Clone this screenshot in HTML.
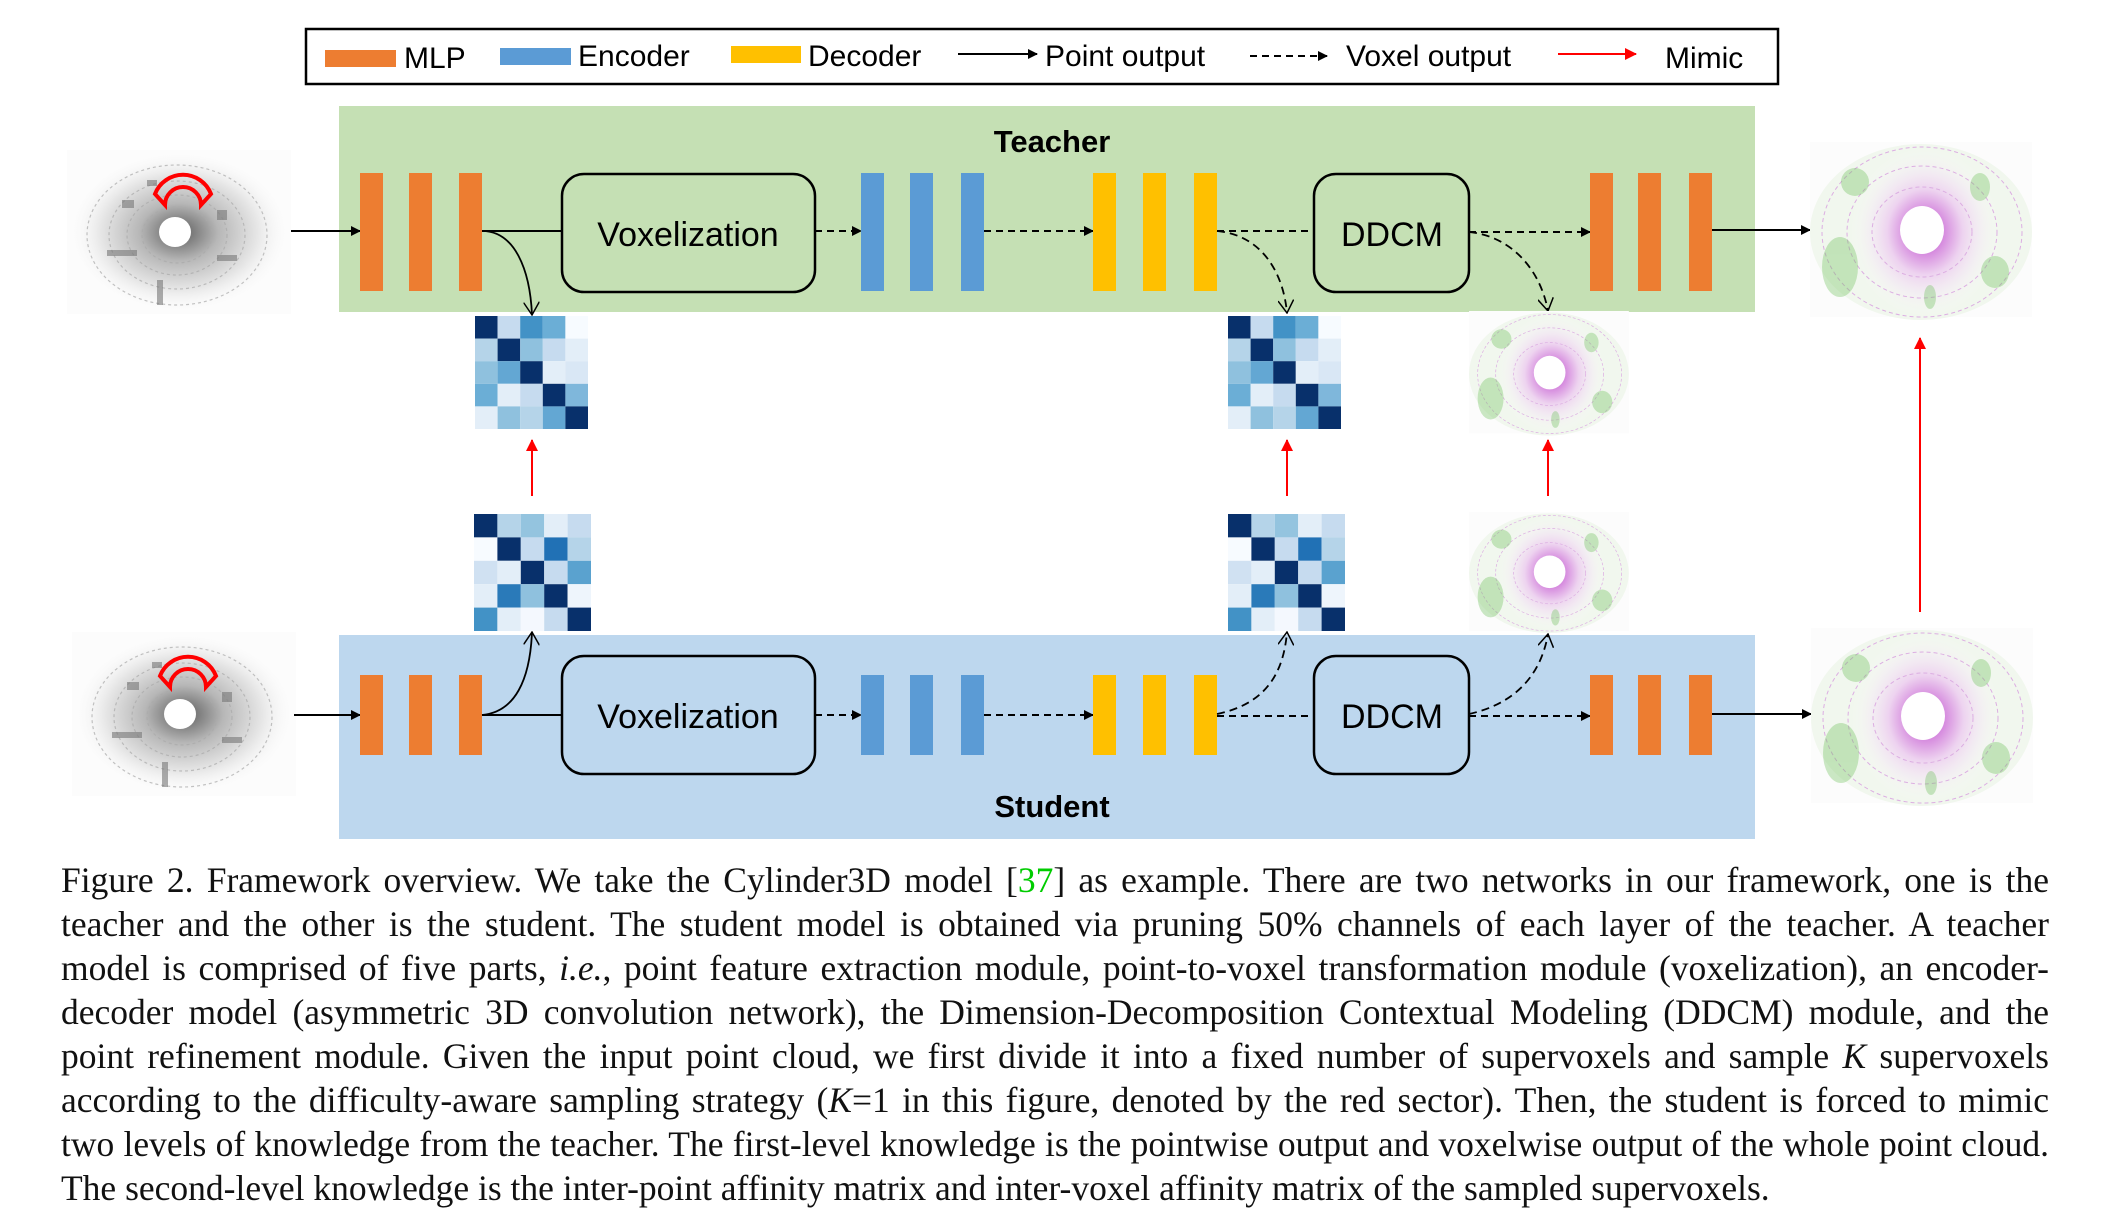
<!DOCTYPE html>
<html><head><meta charset="utf-8">
<style>
html,body{margin:0;padding:0;background:#fff;}
body{width:2113px;height:1221px;position:relative;overflow:hidden;}
svg{position:absolute;left:0;top:0;}
.cap{position:absolute;left:61px;width:1988px;top:858px;font-family:"Liberation Serif",serif;font-size:35.5px;line-height:44px;color:#111;}
.cap div{text-align:justify;text-align-last:justify;white-space:nowrap;height:44px;}
.cap div.last{text-align-last:left;}
</style></head><body>
<svg width="2113" height="1221" viewBox="0 0 2113 1221" xmlns="http://www.w3.org/2000/svg" font-family="Liberation Sans, sans-serif">
<defs>
<marker id="ah" markerWidth="10" markerHeight="10" refX="9" refY="5" orient="auto" markerUnits="userSpaceOnUse"><path d="M0,0 L10,5 L0,10 z" fill="#000"/></marker>
<marker id="ahr" markerWidth="12" markerHeight="12" refX="11" refY="6" orient="auto" markerUnits="userSpaceOnUse"><path d="M0,0 L12,6 L0,12 z" fill="#f00"/></marker>
<marker id="aho" markerWidth="14" markerHeight="16" refX="13" refY="8" orient="auto" markerUnits="userSpaceOnUse"><path d="M0,0 L13,8 L0,16" fill="none" stroke="#000" stroke-width="1.5"/></marker>
<radialGradient id="pcg" cx="0.5" cy="0.5" r="0.5"><stop offset="0.12" stop-color="#444"/><stop offset="0.35" stop-color="#999"/><stop offset="0.7" stop-color="#ddd"/><stop offset="1" stop-color="#fff" stop-opacity="0"/></radialGradient>
<radialGradient id="sgg" cx="0.5" cy="0.5" r="0.5"><stop offset="0.15" stop-color="#c040d0"/><stop offset="0.5" stop-color="#ecc6f0"/><stop offset="1" stop-color="#fff" stop-opacity="0"/></radialGradient>
<g id="pc">
<rect x="0" y="0" width="224" height="164" fill="#fcfcfc"/>
<ellipse cx="112" cy="82" rx="112" ry="82" fill="url(#pcg)" opacity="0.7"/>
<g fill="none" stroke="#aaa" stroke-width="1.2" stroke-dasharray="3 3" opacity="0.7">
<ellipse cx="110" cy="85" rx="35" ry="28"/><ellipse cx="110" cy="85" rx="50" ry="40"/><ellipse cx="110" cy="85" rx="68" ry="54"/><ellipse cx="110" cy="85" rx="90" ry="70"/></g>
<g fill="#777" opacity="0.6"><rect x="55" y="50" width="12" height="8"/><rect x="150" y="60" width="10" height="10"/><rect x="40" y="100" width="30" height="6"/><rect x="150" y="105" width="20" height="6"/><rect x="80" y="30" width="10" height="6"/><rect x="90" y="130" width="6" height="25"/></g>
<ellipse cx="108" cy="82" rx="16" ry="15" fill="#fff"/>
<path d="M88,44 A30,30 0 0 1 144,44 L134,55 A18,18 0 0 0 98,55 Z" fill="none" stroke="#f00" stroke-width="4"/>
</g>
<g id="seg">
<rect x="0" y="0" width="222" height="175" fill="#fcfcfc"/>
<ellipse cx="111" cy="90" rx="111" ry="88" fill="#f1f7ee"/>
<ellipse cx="115" cy="90" rx="75" ry="85" fill="url(#sgg)" opacity="0.75"/>
<g fill="none" stroke="#dcaee2" stroke-width="1" stroke-dasharray="4 3"><ellipse cx="112" cy="90" rx="50" ry="45"/><ellipse cx="112" cy="90" rx="75" ry="66"/><ellipse cx="112" cy="90" rx="100" ry="85"/></g>
<g fill="#6cbf5a" opacity="0.35"><ellipse cx="30" cy="125" rx="18" ry="30"/><ellipse cx="45" cy="40" rx="14" ry="14"/><ellipse cx="170" cy="45" rx="10" ry="14"/><ellipse cx="185" cy="130" rx="14" ry="16"/><ellipse cx="120" cy="155" rx="6" ry="12"/></g>
<ellipse cx="112" cy="88" rx="22" ry="24" fill="#fff"/>
</g>
</defs>

<!-- legend -->
<rect x="306" y="29" width="1472" height="55" fill="#fff" stroke="#000" stroke-width="2.5"/>
<rect x="325" y="50" width="71" height="17" fill="#ed7d31"/>
<text x="404" y="68" font-size="30">MLP</text>
<rect x="500" y="48" width="71" height="17" fill="#5b9bd5"/>
<text x="578" y="66" font-size="30">Encoder</text>
<rect x="731" y="46" width="70" height="17" fill="#ffc000"/>
<text x="808" y="66" font-size="30">Decoder</text>
<line x1="958" y1="54" x2="1037" y2="54" stroke="#000" stroke-width="2" marker-end="url(#ah)"/>
<text x="1045" y="66" font-size="30">Point output</text>
<line x1="1250" y1="56" x2="1327" y2="56" stroke="#000" stroke-width="2" stroke-dasharray="7 5" marker-end="url(#ah)"/>
<text x="1346" y="66" font-size="30">Voxel output</text>
<line x1="1558" y1="54" x2="1636" y2="54" stroke="#f00" stroke-width="2" marker-end="url(#ahr)"/>
<text x="1665" y="68" font-size="30">Mimic</text>

<!-- teacher -->
<rect x="339" y="106" width="1416" height="206" fill="#c5e0b4"/>
<text x="1052" y="152" font-size="31" font-weight="bold" text-anchor="middle">Teacher</text>
<use href="#pc" x="67" y="150"/>
<line x1="291" y1="231" x2="360" y2="231" stroke="#000" stroke-width="2" marker-end="url(#ah)"/>
<g fill="#ed7d31"><rect x="360" y="173" width="23" height="118"/><rect x="409" y="173" width="23" height="118"/><rect x="459" y="173" width="23" height="118"/></g>
<line x1="482" y1="231" x2="561" y2="231" stroke="#000" stroke-width="2"/>
<path d="M482,231 C515,231 530,270 532,315" fill="none" stroke="#000" stroke-width="1.8" marker-end="url(#aho)"/>
<rect x="562" y="174" width="253" height="118" rx="22" fill="none" stroke="#000" stroke-width="2.5"/>
<text x="688" y="246" font-size="34" text-anchor="middle">Voxelization</text>
<line x1="815" y1="231" x2="861" y2="231" stroke="#000" stroke-width="2" stroke-dasharray="7 5" marker-end="url(#ah)"/>
<g fill="#5b9bd5"><rect x="861" y="173" width="23" height="118"/><rect x="910" y="173" width="23" height="118"/><rect x="961" y="173" width="23" height="118"/></g>
<line x1="984" y1="231" x2="1093" y2="231" stroke="#000" stroke-width="2" stroke-dasharray="7 5" marker-end="url(#ah)"/>
<g fill="#ffc000"><rect x="1093" y="173" width="23" height="118"/><rect x="1143" y="173" width="23" height="118"/><rect x="1194" y="173" width="23" height="118"/></g>
<line x1="1217" y1="231" x2="1314" y2="231" stroke="#000" stroke-width="2" stroke-dasharray="7 5"/>
<path d="M1217,231 C1260,235 1283,270 1287,313" fill="none" stroke="#000" stroke-width="1.8" stroke-dasharray="8 5" marker-end="url(#aho)"/>
<rect x="1314" y="174" width="155" height="118" rx="22" fill="none" stroke="#000" stroke-width="2.5"/>
<text x="1392" y="246" font-size="34" text-anchor="middle">DDCM</text>
<line x1="1469" y1="232" x2="1590" y2="232" stroke="#000" stroke-width="2" stroke-dasharray="7 5" marker-end="url(#ah)"/>
<path d="M1469,232 C1510,236 1540,268 1548,311" fill="none" stroke="#000" stroke-width="1.8" stroke-dasharray="8 5" marker-end="url(#aho)"/>
<g fill="#ed7d31"><rect x="1590" y="173" width="23" height="118"/><rect x="1638" y="173" width="23" height="118"/><rect x="1689" y="173" width="23" height="118"/></g>
<line x1="1712" y1="230" x2="1810" y2="230" stroke="#000" stroke-width="2" marker-end="url(#ah)"/>
<use href="#seg" x="1810" y="142"/>

<!-- middle matrices -->
<g transform="translate(475,316)">
<rect width="22.6" height="22.6" x="0" y="0" fill="#08306b"/><rect width="22.6" height="22.6" x="22.6" y="0" fill="#c6dbef"/><rect width="22.6" height="22.6" x="45.2" y="0" fill="#4292c6"/><rect width="22.6" height="22.6" x="67.8" y="0" fill="#6baed6"/><rect width="22.6" height="22.6" x="90.4" y="0" fill="#f7fbff"/>
<rect width="22.6" height="22.6" x="0" y="22.6" fill="#b5d4e9"/><rect width="22.6" height="22.6" x="22.6" y="22.6" fill="#08306b"/><rect width="22.6" height="22.6" x="45.2" y="22.6" fill="#8fc1de"/><rect width="22.6" height="22.6" x="67.8" y="22.6" fill="#c6dbef"/><rect width="22.6" height="22.6" x="90.4" y="22.6" fill="#e3eef8"/>
<rect width="22.6" height="22.6" x="0" y="45.2" fill="#8fc1de"/><rect width="22.6" height="22.6" x="22.6" y="45.2" fill="#63a7d3"/><rect width="22.6" height="22.6" x="45.2" y="45.2" fill="#08306b"/><rect width="22.6" height="22.6" x="67.8" y="45.2" fill="#e3eef8"/><rect width="22.6" height="22.6" x="90.4" y="45.2" fill="#d9e7f5"/>
<rect width="22.6" height="22.6" x="0" y="67.8" fill="#6baed6"/><rect width="22.6" height="22.6" x="22.6" y="67.8" fill="#e3eef8"/><rect width="22.6" height="22.6" x="45.2" y="67.8" fill="#c6dbef"/><rect width="22.6" height="22.6" x="67.8" y="67.8" fill="#08306b"/><rect width="22.6" height="22.6" x="90.4" y="67.8" fill="#7fb7db"/>
<rect width="22.6" height="22.6" x="0" y="90.4" fill="#e3eef8"/><rect width="22.6" height="22.6" x="22.6" y="90.4" fill="#8fc1de"/><rect width="22.6" height="22.6" x="45.2" y="90.4" fill="#b5d4e9"/><rect width="22.6" height="22.6" x="67.8" y="90.4" fill="#63a7d3"/><rect width="22.6" height="22.6" x="90.4" y="90.4" fill="#08306b"/>
</g>
<g transform="translate(1228,316)">
<rect width="22.6" height="22.6" x="0" y="0" fill="#08306b"/><rect width="22.6" height="22.6" x="22.6" y="0" fill="#c6dbef"/><rect width="22.6" height="22.6" x="45.2" y="0" fill="#4292c6"/><rect width="22.6" height="22.6" x="67.8" y="0" fill="#6baed6"/><rect width="22.6" height="22.6" x="90.4" y="0" fill="#f7fbff"/>
<rect width="22.6" height="22.6" x="0" y="22.6" fill="#b5d4e9"/><rect width="22.6" height="22.6" x="22.6" y="22.6" fill="#08306b"/><rect width="22.6" height="22.6" x="45.2" y="22.6" fill="#8fc1de"/><rect width="22.6" height="22.6" x="67.8" y="22.6" fill="#c6dbef"/><rect width="22.6" height="22.6" x="90.4" y="22.6" fill="#e3eef8"/>
<rect width="22.6" height="22.6" x="0" y="45.2" fill="#8fc1de"/><rect width="22.6" height="22.6" x="22.6" y="45.2" fill="#63a7d3"/><rect width="22.6" height="22.6" x="45.2" y="45.2" fill="#08306b"/><rect width="22.6" height="22.6" x="67.8" y="45.2" fill="#e3eef8"/><rect width="22.6" height="22.6" x="90.4" y="45.2" fill="#d9e7f5"/>
<rect width="22.6" height="22.6" x="0" y="67.8" fill="#6baed6"/><rect width="22.6" height="22.6" x="22.6" y="67.8" fill="#e3eef8"/><rect width="22.6" height="22.6" x="45.2" y="67.8" fill="#c6dbef"/><rect width="22.6" height="22.6" x="67.8" y="67.8" fill="#08306b"/><rect width="22.6" height="22.6" x="90.4" y="67.8" fill="#7fb7db"/>
<rect width="22.6" height="22.6" x="0" y="90.4" fill="#e3eef8"/><rect width="22.6" height="22.6" x="22.6" y="90.4" fill="#8fc1de"/><rect width="22.6" height="22.6" x="45.2" y="90.4" fill="#b5d4e9"/><rect width="22.6" height="22.6" x="67.8" y="90.4" fill="#63a7d3"/><rect width="22.6" height="22.6" x="90.4" y="90.4" fill="#08306b"/>
</g>
<g transform="translate(474,514)">
<rect width="23.4" height="23.4" x="0" y="0" fill="#08306b"/><rect width="23.4" height="23.4" x="23.4" y="0" fill="#b5d4e9"/><rect width="23.4" height="23.4" x="46.8" y="0" fill="#94c4df"/><rect width="23.4" height="23.4" x="70.2" y="0" fill="#e3eef8"/><rect width="23.4" height="23.4" x="93.6" y="0" fill="#c6dbef"/>
<rect width="23.4" height="23.4" x="0" y="23.4" fill="#f7fbff"/><rect width="23.4" height="23.4" x="23.4" y="23.4" fill="#08306b"/><rect width="23.4" height="23.4" x="46.8" y="23.4" fill="#c6dbef"/><rect width="23.4" height="23.4" x="70.2" y="23.4" fill="#2171b5"/><rect width="23.4" height="23.4" x="93.6" y="23.4" fill="#b5d4e9"/>
<rect width="23.4" height="23.4" x="0" y="46.8" fill="#d0e1f2"/><rect width="23.4" height="23.4" x="23.4" y="46.8" fill="#e3eef8"/><rect width="23.4" height="23.4" x="46.8" y="46.8" fill="#08306b"/><rect width="23.4" height="23.4" x="70.2" y="46.8" fill="#c6dbef"/><rect width="23.4" height="23.4" x="93.6" y="46.8" fill="#5aa2cf"/>
<rect width="23.4" height="23.4" x="0" y="70.2" fill="#e3eef8"/><rect width="23.4" height="23.4" x="23.4" y="70.2" fill="#2a7ab9"/><rect width="23.4" height="23.4" x="46.8" y="70.2" fill="#8fc1de"/><rect width="23.4" height="23.4" x="70.2" y="70.2" fill="#08306b"/><rect width="23.4" height="23.4" x="93.6" y="70.2" fill="#eef5fc"/>
<rect width="23.4" height="23.4" x="0" y="93.6" fill="#4292c6"/><rect width="23.4" height="23.4" x="23.4" y="93.6" fill="#e3eef8"/><rect width="23.4" height="23.4" x="46.8" y="93.6" fill="#f4f8fe"/><rect width="23.4" height="23.4" x="70.2" y="93.6" fill="#c6dbef"/><rect width="23.4" height="23.4" x="93.6" y="93.6" fill="#08306b"/>
</g>
<g transform="translate(1228,514)">
<rect width="23.4" height="23.4" x="0" y="0" fill="#08306b"/><rect width="23.4" height="23.4" x="23.4" y="0" fill="#b5d4e9"/><rect width="23.4" height="23.4" x="46.8" y="0" fill="#94c4df"/><rect width="23.4" height="23.4" x="70.2" y="0" fill="#e3eef8"/><rect width="23.4" height="23.4" x="93.6" y="0" fill="#c6dbef"/>
<rect width="23.4" height="23.4" x="0" y="23.4" fill="#f7fbff"/><rect width="23.4" height="23.4" x="23.4" y="23.4" fill="#08306b"/><rect width="23.4" height="23.4" x="46.8" y="23.4" fill="#c6dbef"/><rect width="23.4" height="23.4" x="70.2" y="23.4" fill="#2171b5"/><rect width="23.4" height="23.4" x="93.6" y="23.4" fill="#b5d4e9"/>
<rect width="23.4" height="23.4" x="0" y="46.8" fill="#d0e1f2"/><rect width="23.4" height="23.4" x="23.4" y="46.8" fill="#e3eef8"/><rect width="23.4" height="23.4" x="46.8" y="46.8" fill="#08306b"/><rect width="23.4" height="23.4" x="70.2" y="46.8" fill="#c6dbef"/><rect width="23.4" height="23.4" x="93.6" y="46.8" fill="#5aa2cf"/>
<rect width="23.4" height="23.4" x="0" y="70.2" fill="#e3eef8"/><rect width="23.4" height="23.4" x="23.4" y="70.2" fill="#2a7ab9"/><rect width="23.4" height="23.4" x="46.8" y="70.2" fill="#8fc1de"/><rect width="23.4" height="23.4" x="70.2" y="70.2" fill="#08306b"/><rect width="23.4" height="23.4" x="93.6" y="70.2" fill="#eef5fc"/>
<rect width="23.4" height="23.4" x="0" y="93.6" fill="#4292c6"/><rect width="23.4" height="23.4" x="23.4" y="93.6" fill="#e3eef8"/><rect width="23.4" height="23.4" x="46.8" y="93.6" fill="#f4f8fe"/><rect width="23.4" height="23.4" x="70.2" y="93.6" fill="#c6dbef"/><rect width="23.4" height="23.4" x="93.6" y="93.6" fill="#08306b"/>
</g>
<use href="#seg" x="1469" y="311" transform="translate(1469,311) scale(0.72,0.70) translate(-1469,-311)"/>
<use href="#seg" x="1469" y="512" transform="translate(1469,512) scale(0.72,0.68) translate(-1469,-512)"/>

<!-- red mimic arrows -->
<line x1="532" y1="496" x2="532" y2="440" stroke="#f00" stroke-width="2" marker-end="url(#ahr)"/>
<line x1="1287" y1="496" x2="1287" y2="440" stroke="#f00" stroke-width="2" marker-end="url(#ahr)"/>
<line x1="1548" y1="496" x2="1548" y2="440" stroke="#f00" stroke-width="2" marker-end="url(#ahr)"/>
<line x1="1920" y1="612" x2="1920" y2="338" stroke="#f00" stroke-width="2" marker-end="url(#ahr)"/>

<!-- student -->
<rect x="339" y="635" width="1416" height="204" fill="#bdd7ee"/>
<text x="1052" y="817" font-size="31" font-weight="bold" text-anchor="middle">Student</text>
<use href="#pc" x="72" y="632"/>
<line x1="294" y1="715" x2="360" y2="715" stroke="#000" stroke-width="2" marker-end="url(#ah)"/>
<g fill="#ed7d31"><rect x="360" y="675" width="23" height="80"/><rect x="409" y="675" width="23" height="80"/><rect x="459" y="675" width="23" height="80"/></g>
<line x1="482" y1="715" x2="561" y2="715" stroke="#000" stroke-width="2"/>
<path d="M482,715 C515,712 530,680 532,632" fill="none" stroke="#000" stroke-width="1.8" marker-end="url(#aho)"/>
<rect x="562" y="656" width="253" height="118" rx="22" fill="none" stroke="#000" stroke-width="2.5"/>
<text x="688" y="728" font-size="34" text-anchor="middle">Voxelization</text>
<line x1="815" y1="715" x2="861" y2="715" stroke="#000" stroke-width="2" stroke-dasharray="7 5" marker-end="url(#ah)"/>
<g fill="#5b9bd5"><rect x="861" y="675" width="23" height="80"/><rect x="910" y="675" width="23" height="80"/><rect x="961" y="675" width="23" height="80"/></g>
<line x1="984" y1="715" x2="1093" y2="715" stroke="#000" stroke-width="2" stroke-dasharray="7 5" marker-end="url(#ah)"/>
<g fill="#ffc000"><rect x="1093" y="675" width="23" height="80"/><rect x="1143" y="675" width="23" height="80"/><rect x="1194" y="675" width="23" height="80"/></g>
<line x1="1217" y1="716" x2="1314" y2="716" stroke="#000" stroke-width="2" stroke-dasharray="7 5"/>
<path d="M1217,714 C1260,705 1283,680 1287,632" fill="none" stroke="#000" stroke-width="1.8" stroke-dasharray="8 5" marker-end="url(#aho)"/>
<rect x="1314" y="656" width="155" height="118" rx="22" fill="none" stroke="#000" stroke-width="2.5"/>
<text x="1392" y="728" font-size="34" text-anchor="middle">DDCM</text>
<line x1="1469" y1="716" x2="1590" y2="716" stroke="#000" stroke-width="2" stroke-dasharray="7 5" marker-end="url(#ah)"/>
<path d="M1469,714 C1510,705 1540,680 1548,634" fill="none" stroke="#000" stroke-width="1.8" stroke-dasharray="8 5" marker-end="url(#aho)"/>
<g fill="#ed7d31"><rect x="1590" y="675" width="23" height="80"/><rect x="1638" y="675" width="23" height="80"/><rect x="1689" y="675" width="23" height="80"/></g>
<line x1="1712" y1="714" x2="1811" y2="714" stroke="#000" stroke-width="2" marker-end="url(#ah)"/>
<use href="#seg" x="1811" y="628"/>
</svg>

<div class="cap">
<div>Figure 2. Framework overview. We take the Cylinder3D model [<span style="color:#0c0">37</span>] as example. There are two networks in our framework, one is the</div>
<div>teacher and the other is the student. The student model is obtained via pruning 50% channels of each layer of the teacher. A teacher</div>
<div>model is comprised of five parts, <i>i.e.</i>, point feature extraction module, point-to-voxel transformation module (voxelization), an encoder-</div>
<div>decoder model (asymmetric 3D convolution network), the Dimension-Decomposition Contextual Modeling (DDCM) module, and the</div>
<div>point refinement module. Given the input point cloud, we first divide it into a fixed number of supervoxels and sample <i>K</i> supervoxels</div>
<div>according to the difficulty-aware sampling strategy (<i>K</i>=1 in this figure, denoted by the red sector). Then, the student is forced to mimic</div>
<div>two levels of knowledge from the teacher. The first-level knowledge is the pointwise output and voxelwise output of the whole point cloud.</div>
<div class="last">The second-level knowledge is the inter-point affinity matrix and inter-voxel affinity matrix of the sampled supervoxels.</div>
</div>
</body></html>
